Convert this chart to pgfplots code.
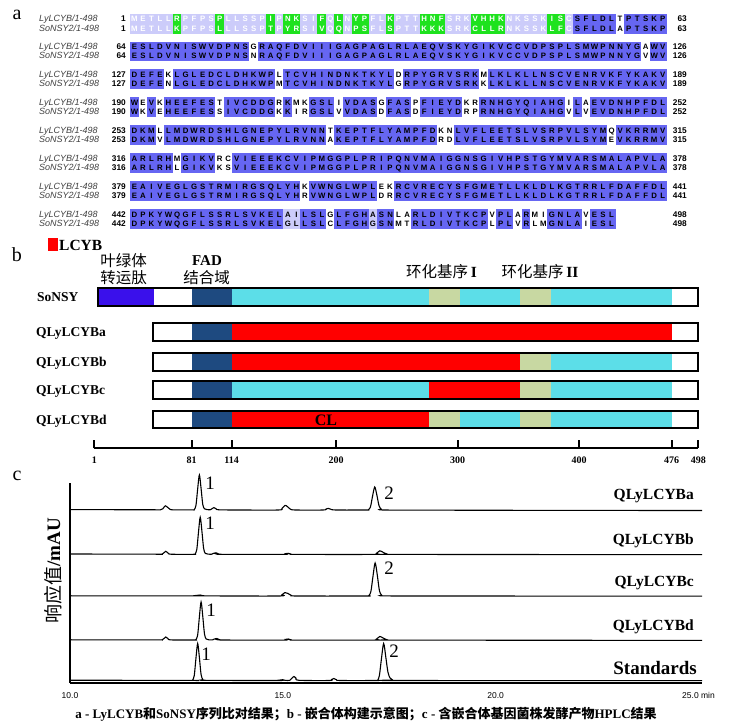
\documentclass[border=0pt]{standalone}
\usepackage{fontspec}
\setmainfont{Liberation Serif}
\newfontfamily\cjk{Noto Sans CJK SC}
\newfontfamily\arial{Liberation Sans}
\usepackage{pgfplots}
\pgfplotsset{compat=1.18}
\definecolor{aliblue}{RGB}{102,102,242}
\definecolor{alilight}{RGB}{204,204,250}
\definecolor{aligreen}{RGB}{30,226,30}
\definecolor{tpviolet}{RGB}{58,16,235}
\definecolor{fadblue}{RGB}{30,74,128}
\definecolor{cycyan}{RGB}{92,222,232}
\definecolor{khaki}{RGB}{200,216,162}
\newcommand\run[5]{\addplot[fill=#1,draw=none] coordinates {(#2,#5) (#3,#5) (#3,#4) (#2,#4)} -- cycle;}
\newcommand\boxoutline[4]{\addplot[draw=black,line width=2pt] coordinates {(#1,#4) (#2,#4) (#2,#3) (#1,#3)} -- cycle;}
\def\cw{8.52pt}
\def\seqloop#1{\ifx\relax#1\else\makebox[\cw][c]{#1}\expandafter\seqloop\fi}
\newcommand\seqrow[1]{\seqloop#1\relax}
\newcommand\alnrow[5]{%
 \node[anchor=base west,inner sep=0pt,font=\arial\itshape\fontsize{9}{9}\selectfont,text=black!75] at (39pt,#1pt) {#2};
 \node[anchor=base east,inner sep=0pt,font=\arial\bfseries\fontsize{8.3}{9}\selectfont] at (126pt,#1pt) {#3};
 \node[anchor=base west,inner sep=0pt,font=\arial\bfseries\fontsize{7.8}{8}\selectfont] at (130pt,#1pt) {#4};
 \node[anchor=base east,inner sep=0pt,font=\arial\bfseries\fontsize{8.3}{9}\selectfont] at (687pt,#1pt) {#5};}
\begin{document}
\begin{tikzpicture}
\useasboundingbox (0,0) rectangle (731pt,728pt);
% ---------------- panel a: alignment background
\begin{axis}[at={(130pt,490pt)},anchor=south west,scale only axis,width=536.76pt,height=230pt,
  xmin=0,xmax=63,ymin=490,ymax=720,axis lines=none,clip=false]
% block 1
\run{alilight}{0}{52}{714.3}{694.4}
\run{aligreen}{5}{6}{714.3}{694.4}
\run{aligreen}{10}{11}{714.3}{694.4}
\run{aligreen}{16}{17}{714.3}{694.4}
\run{aligreen}{18}{20}{714.3}{694.4}
\run{aligreen}{22}{23}{714.3}{694.4}
\run{aligreen}{24}{25}{714.3}{694.4}
\run{aligreen}{26}{28}{714.3}{694.4}
\run{aligreen}{30}{31}{714.3}{694.4}
\run{aligreen}{34}{37}{714.3}{694.4}
\run{aligreen}{40}{44}{714.3}{694.4}
\run{aligreen}{49}{51}{714.3}{694.4}
\run{aliblue}{52}{57}{714.3}{694.4}
\run{aliblue}{58}{63}{714.3}{694.4}
% block 2
\run{aliblue}{0}{14}{686.4}{666.5}
\run{aliblue}{15}{60}{686.4}{666.5}
\run{aliblue}{61}{63}{686.4}{666.5}
% block 3
\run{aliblue}{0}{4}{658.5}{638.6}
\run{aliblue}{5}{17}{658.5}{638.6}
\run{aliblue}{18}{31}{658.5}{638.6}
\run{aliblue}{32}{41}{658.5}{638.6}
\run{aliblue}{42}{63}{658.5}{638.6}
% block 4
\run{aliblue}{0}{1}{630.6}{610.7}
\run{aliblue}{2}{3}{630.6}{610.7}
\run{aliblue}{4}{10}{630.6}{610.7}
\run{aliblue}{11}{17}{630.6}{610.7}
\run{aliblue}{18}{19}{630.6}{610.7}
\run{aliblue}{21}{24}{630.6}{610.7}
\run{aliblue}{25}{29}{630.6}{610.7}
\run{aliblue}{30}{33}{630.6}{610.7}
\run{aliblue}{34}{39}{630.6}{610.7}
\run{aliblue}{41}{51}{630.6}{610.7}
\run{aliblue}{52}{53}{630.6}{610.7}
\run{aliblue}{54}{63}{630.6}{610.7}
% block 5
\run{aliblue}{0}{3}{602.7}{582.8}
\run{aliblue}{4}{23}{602.7}{582.8}
\run{aliblue}{24}{36}{602.7}{582.8}
\run{aliblue}{38}{56}{602.7}{582.8}
\run{aliblue}{57}{63}{602.7}{582.8}
% block 6
\run{aliblue}{0}{5}{574.8}{554.9}
\run{aliblue}{6}{10}{574.8}{554.9}
\run{aliblue}{12}{63}{574.8}{554.9}
% block 7
\run{aliblue}{0}{20}{546.9}{527.0}
\run{aliblue}{21}{29}{546.9}{527.0}
\run{aliblue}{31}{63}{546.9}{527.0}
% block 8
\run{aliblue}{0}{18}{519.0}{499.1}
\run{alilight}{18}{20}{519.0}{499.1}
\run{aliblue}{20}{23}{519.0}{499.1}
\run{aliblue}{24}{28}{519.0}{499.1}
\run{alilight}{28}{29}{519.0}{499.1}
\run{aliblue}{29}{31}{519.0}{499.1}
\run{aliblue}{33}{42}{519.0}{499.1}
\run{aliblue}{43}{45}{519.0}{499.1}
\run{aliblue}{46}{47}{519.0}{499.1}
\run{aliblue}{49}{53}{519.0}{499.1}
\run{aliblue}{54}{57}{519.0}{499.1}
\end{axis}
% alignment text
\alnrow{706.2}{LyLCYB/1-498}{1}{{\color{white}\seqrow{METLLRPFPSPLLSSPIPNKSIFQLNYPFLKPTTHNFSRKVHHKNKSSKISC}}\seqrow{SFLDLTPTSKP}}{63}
\alnrow{696.9}{SoNSY2/1-498}{1}{{\color{white}\seqrow{METLLKPFPSLLLSSPTPYRSIVQQNPSFLSPTTKKKSRKCLLRNKSSKLFC}}\seqrow{SFLDLAPTSKP}}{63}
\alnrow{678.3}{LyLCYB/1-498}{64}{\seqrow{ESLDVNISWVDPNSGRAQFDVIIIGAGPAGLRLAEQVSKYGIKVCCVDPSPLSMWPNNYGAWV}}{126}
\alnrow{669.0}{SoNSY2/1-498}{64}{\seqrow{ESLDVNISWVDPNSNRAQFDVIIIGAGPAGLRLAEQVSKYGIKVCCVDPSPLSMWPNNYGVWV}}{126}
\alnrow{650.4}{LyLCYB/1-498}{127}{\seqrow{DEFEKLGLEDCLDHKWPLTCVHINDNKTKYLDRPYGRVSRKMLKLKLLNSCVENRVKFYKAKV}}{189}
\alnrow{641.1}{SoNSY2/1-498}{127}{\seqrow{DEFENLGLEDCLDHKWPMTCVHINDNKTKYLGRPYGRVSRKKLKLKLLNSCVENRVKFYKAKV}}{189}
\alnrow{622.5}{LyLCYB/1-498}{190}{\seqrow{WEVKHEEFESTIVCDDGRKMKGSLIVDASGFASPFIEYDKRRNHGYQIAHGILAEVDNHPFDL}}{252}
\alnrow{613.2}{SoNSY2/1-498}{190}{\seqrow{WKVEHEEFESSIVCDDGKKIRGSLVVDASDFASDFIEYDRPRNHGYQIAHGVLVEVDNHPFDL}}{252}
\alnrow{594.6}{LyLCYB/1-498}{253}{\seqrow{DKMLLMDWRDSHLGNEPYLRVNNTKEPTFLYAMPFDKNLVFLEETSLVSRPVLSYMQVKRRMV}}{315}
\alnrow{585.3}{SoNSY2/1-498}{253}{\seqrow{DKMVLMDWRDSHLGNEPYLRVNNAKEPTFLYAMPFDRDLVFLEETSLVSRPVLSYMEVKRRMV}}{315}
\alnrow{566.7}{LyLCYB/1-498}{316}{\seqrow{ARLRHMGIKVRCVIEEEKCVIPMGGPLPRIPQNVMAIGGNSGIVHPSTGYMVARSMALAPVLA}}{378}
\alnrow{557.4}{SoNSY2/1-498}{316}{\seqrow{ARLRHLGIKVKSVIEEEKCVIPMGGPLPRIPQNVMAIGGNSGIVHPSTGYMVARSMALAPVLA}}{378}
\alnrow{538.8}{LyLCYB/1-498}{379}{\seqrow{EAIVEGLGSTRMIRGSQLYHKVWNGLWPLEKRCVRECYSFGMETLLKLDLKGTRRLFDAFFDL}}{441}
\alnrow{529.5}{SoNSY2/1-498}{379}{\seqrow{EAIVEGLGSTRMIRGSQLYHRVWNGLWPLDRRCVRECYSFGMETLLKLDLKGTRRLFDAFFDL}}{441}
\alnrow{510.9}{LyLCYB/1-498}{442}{\seqrow{DPKYWQGFLSSRLSVKELAILSLGLFGHASNLARLDIVTKCPVPLARMIGNLAVESL}}{498}
\alnrow{501.6}{SoNSY2/1-498}{442}{\seqrow{DPKYWQGFLSSRLSVKELGLLSLCLFGHGSNMTRLDIVTKCPLPLVRLMGNLAIESL}}{498}
% ---------------- panel b: chimera constructs
\begin{axis}[at={(94.3pt,279.7pt)},anchor=south west,scale only axis,width=604pt,height=165.3pt,
  xmin=1,xmax=498,ymin=279.7,ymax=445,axis x line*=bottom,axis y line=none,clip=false,
  xtick={1,81,114,200,300,400,476,498},xticklabels={1,81,114,200,300,400,476,498},
  tick align=inside,major tick length=8pt,tick style={black,line width=2pt},
  axis line style={line width=2pt},
  xticklabel style={font=\bfseries\fontsize{10}{10}\selectfont,yshift=-5pt}]
% legend swatch
\run{red}{-37.1}{-28.9}{490}{477}
% SoNSY
\run{tpviolet}{4}{50.1}{439.7}{422.3}
\run{fadblue}{81}{114}{439.7}{422.3}
\run{cycyan}{114}{276}{439.7}{422.3}
\run{khaki}{276}{302}{439.7}{422.3}
\run{cycyan}{302}{351.5}{439.7}{422.3}
\run{khaki}{351.5}{377}{439.7}{422.3}
\run{cycyan}{377}{476}{439.7}{422.3}
\boxoutline{4}{498}{439.7}{422.3}
% QLyLCYBa
\run{fadblue}{81}{114}{404.7}{387.3}
\run{red}{114}{476}{404.7}{387.3}
\boxoutline{49.5}{498}{404.7}{387.3}
% QLyLCYBb
\run{fadblue}{81}{114}{374.7}{357.3}
\run{red}{114}{351.5}{374.7}{357.3}
\run{khaki}{351.5}{377}{374.7}{357.3}
\run{cycyan}{377}{476}{374.7}{357.3}
\boxoutline{49.5}{498}{374.7}{357.3}
% QLyLCYBc
\run{fadblue}{81}{114}{347}{329}
\run{cycyan}{114}{276}{347}{329}
\run{red}{276}{351.5}{347}{329}
\run{khaki}{351.5}{377}{347}{329}
\run{cycyan}{377}{476}{347}{329}
\boxoutline{49.5}{498}{347}{329}
% QLyLCYBd
\run{fadblue}{81}{114}{317}{299.7}
\run{red}{114}{276}{317}{299.7}
\run{khaki}{276}{302}{317}{299.7}
\run{cycyan}{302}{351.5}{317}{299.7}
\run{khaki}{351.5}{377}{317}{299.7}
\run{cycyan}{377}{476}{317}{299.7}
\boxoutline{49.5}{498}{317}{299.7}
\end{axis}
\node[anchor=west,inner sep=0pt,font=\bfseries\fontsize{15.5}{16}\selectfont] at (59pt,483pt) {LCYB};
\node[font=\cjk\fontsize{15.5}{16}\selectfont] at (123.5pt,467pt) {叶绿体};
\node[font=\cjk\fontsize{15.5}{16}\selectfont] at (123.5pt,450pt) {转运肽};
\node[font=\bfseries\fontsize{15}{16}\selectfont] at (207pt,467pt) {FAD};
\node[font=\cjk\fontsize{15.5}{16}\selectfont] at (206.5pt,450pt) {结合域};
\node[font=\fontsize{15.5}{16}\selectfont] at (441.5pt,456pt) {{\cjk 环化基序}\,\textbf{I}};
\node[font=\fontsize{15.5}{16}\selectfont] at (540pt,456pt) {{\cjk 环化基序}\,\textbf{II}};
\node[font=\bfseries\fontsize{16}{16}\selectfont] at (326pt,308pt) {CL};
\node[anchor=base west,inner sep=0pt,font=\bfseries\fontsize{13.5}{14}\selectfont] at (37pt,426.5pt) {SoNSY};
\node[anchor=base west,inner sep=0pt,font=\bfseries\fontsize{13.5}{14}\selectfont] at (36pt,391.5pt) {QLyLCYBa};
\node[anchor=base west,inner sep=0pt,font=\bfseries\fontsize{13.5}{14}\selectfont] at (36pt,361.5pt) {QLyLCYBb};
\node[anchor=base west,inner sep=0pt,font=\bfseries\fontsize{13.5}{14}\selectfont] at (36pt,333.5pt) {QLyLCYBc};
\node[anchor=base west,inner sep=0pt,font=\bfseries\fontsize{13.5}{14}\selectfont] at (36pt,303.8pt) {QLyLCYBd};
% ---------------- panel c: HPLC
\begin{axis}[at={(70pt,45pt)},anchor=south west,scale only axis,width=632pt,height=200.3pt,
  xmin=10,xmax=24.85,ymin=45,ymax=245.3,axis x line*=bottom,axis y line*=left,clip=false,
  ytick=\empty,xtick={10,15,20},xticklabels={10.0,15.0,20.0},major tick length=0pt,
  axis line style={line width=1.6pt},
  xticklabel style={font=\arial\fontsize{8.5}{9}\selectfont,yshift=-6pt}]
\addplot[black,line width=1.1pt,smooth,tension=0.5] coordinates {
(10,218.4) (11,218.3) (12,218.2) (12.12,218.1) (12.18,219.2) (12.24,222.2) (12.3,220.4) (12.36,218.4) (12.5,218.1)
(12.88,218.1) (12.92,218.4) (12.96,222.7) (13.0,239.2) (13.04,253) (13.08,239.5) (13.12,223.5) (13.16,219.2) (13.22,218.4)
(13.3,218.3) (13.34,219.4) (13.38,220.4) (13.43,219.3) (13.5,218.2) (14,218) (14.9,218) (14.98,219.5) (15.05,222.6)
(15.11,221.4) (15.18,218.8) (15.3,218) (15.95,218) (16.02,219.1) (16.07,219.6) (16.13,218.7) (16.25,218)
(16.95,218) (17.01,218.3) (17.06,221.1) (17.11,232) (17.16,241) (17.21,233) (17.26,222.5) (17.31,219) (17.38,218)
(19,217.8) (22,217.6) (24.85,217.5)};
\addplot[black,line width=1.1pt,smooth,tension=0.5] coordinates {
(10,174) (12,173.8) (12.16,173.8) (12.2,175) (12.25,176.7) (12.3,175.2) (12.37,173.8) (12.9,173.7) (12.94,174.1)
(12.98,178.7) (13.02,196.2) (13.06,210.7) (13.1,196.6) (13.14,179.5) (13.18,174.6) (13.24,173.9) (13.33,173.8)
(13.38,174.8) (13.43,175.2) (13.48,174.3) (13.55,173.7) (15.0,173.6) (15.08,174.4) (15.13,174.7) (15.2,173.8)
(15.3,173.6) (17.1,173.6) (17.2,174.6) (17.28,177.2) (17.36,175.6) (17.46,173.8) (17.6,173.6) (24.85,173.3)};
\addplot[black,line width=1.1pt,smooth,tension=0.5] coordinates {
(10,132.2) (12.9,132.1) (13.0,132.7) (13.06,133) (13.12,132.3) (13.2,132.1) (14.9,132) (14.98,133.2) (15.05,135.4)
(15.12,134.6) (15.2,132.6) (15.35,132) (16.95,132) (17.02,132.4) (17.07,136.5) (17.12,152) (17.17,165) (17.22,153)
(17.27,137.5) (17.32,133) (17.4,132.1) (19,132) (24.85,131.8)};
\addplot[black,line width=1.1pt,smooth,tension=0.5] coordinates {
(10,88.2) (12,88.1) (12.16,88.1) (12.2,89.2) (12.25,91) (12.3,89.5) (12.37,88.1) (12.92,88) (12.96,88.5) (13.0,93.1)
(13.04,111) (13.08,126) (13.12,111.5) (13.16,94) (13.2,89) (13.26,88.2) (13.35,88.1) (13.4,89.1) (13.45,89.5)
(13.5,88.6) (13.58,88) (15.0,87.9) (15.08,88.7) (15.13,89) (15.2,88.1) (15.3,87.9) (17.1,87.9) (17.2,88.9)
(17.28,91.5) (17.36,89.9) (17.46,88.1) (17.6,87.9) (24.85,87.6)};
\addplot[black,line width=1.1pt,smooth,tension=0.5] coordinates {
(10,47.8) (12.85,47.6) (12.88,47.9) (12.92,52.5) (12.96,70) (13.0,84.5) (13.04,70.5) (13.08,53.5) (13.12,48.6)
(13.18,47.7) (14.9,47.5) (14.96,48.1) (15.0,48.3) (15.05,47.7) (15.16,47.6) (15.21,49.5) (15.26,51.5) (15.31,49.8)
(15.38,47.7) (16.1,47.5) (16.15,48.6) (16.2,49.5) (16.26,48.3) (16.35,47.5) (17.2,47.5) (17.23,47.9) (17.27,52.5)
(17.32,70) (17.37,84.5) (17.42,71) (17.47,56) (17.52,50) (17.58,48) (17.7,47.5) (24.85,47.3)};
\end{axis}
\node[anchor=base west,inner sep=0pt,font=\arial\fontsize{8.5}{9}\selectfont] at (682pt,29pt) {25.0 min};
\node[font=\fontsize{19}{19}\selectfont] at (210pt,245pt) {1};
\node[font=\fontsize{19}{19}\selectfont] at (389pt,235pt) {2};
\node[font=\fontsize{19}{19}\selectfont] at (210pt,204.5pt) {1};
\node[font=\fontsize{19}{19}\selectfont] at (389pt,160pt) {2};
\node[font=\fontsize{19}{19}\selectfont] at (211pt,118pt) {1};
\node[font=\fontsize{19}{19}\selectfont] at (206pt,74pt) {1};
\node[font=\fontsize{19}{19}\selectfont] at (394pt,77pt) {2};
\node[anchor=base east,inner sep=0pt,font=\bfseries\fontsize{15.5}{16}\selectfont] at (694pt,228pt) {QLyLCYBa};
\node[anchor=base east,inner sep=0pt,font=\bfseries\fontsize{15.5}{16}\selectfont] at (694pt,183pt) {QLyLCYBb};
\node[anchor=base east,inner sep=0pt,font=\bfseries\fontsize{15.5}{16}\selectfont] at (694pt,141pt) {QLyLCYBc};
\node[anchor=base east,inner sep=0pt,font=\bfseries\fontsize{15.5}{16}\selectfont] at (694pt,97pt) {QLyLCYBd};
\node[anchor=base east,inner sep=0pt,font=\bfseries\fontsize{19}{19}\selectfont] at (697pt,53.7pt) {Standards};
\node[rotate=90,font=\fontsize{19}{19}\selectfont] at (53pt,157pt) {{\cjk 响应值}\textbf{/mAU}};
% panel letters
\node[font=\fontsize{20}{20}\selectfont] at (17pt,713pt) {a};
\node[font=\fontsize{20}{20}\selectfont] at (17pt,473pt) {b};
\node[font=\fontsize{20}{20}\selectfont] at (17pt,252pt) {c};
% caption
\node[font=\bfseries\fontsize{13}{13}\selectfont] at (366pt,14pt) {a - LyLCYB{\cjk 和}SoNSY{\cjk 序列比对结果；}b - {\cjk 嵌合体构建示意图；}c - {\cjk 含嵌合体基因菌株发酵产物}HPLC{\cjk 结果}};
\end{tikzpicture}
\end{document}
